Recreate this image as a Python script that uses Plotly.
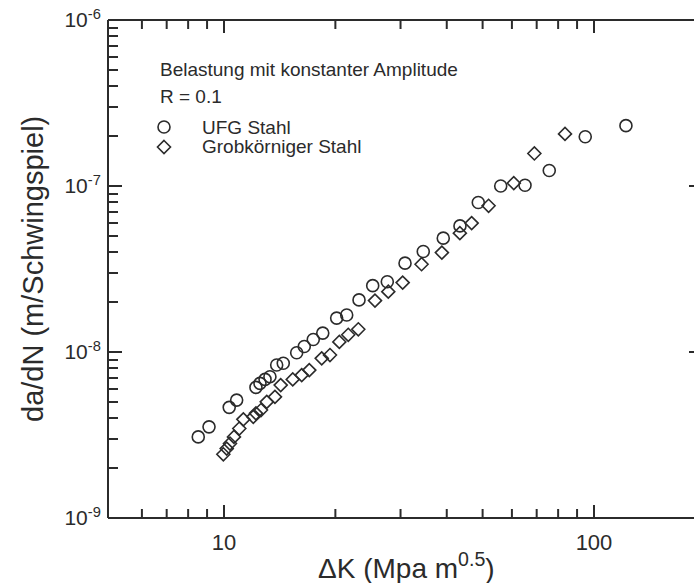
import plotly.graph_objects as go

# Crack growth rate da/dN versus stress intensity range ΔK
k_ufg = [8.52, 9.11, 10.33, 10.82, 12.2, 12.51, 12.91, 13.31, 13.88, 14.46,
         15.72, 16.48, 17.43, 18.49, 20.16, 21.46, 23.17, 25.23, 27.63, 30.85,
         34.56, 39.14, 43.43, 48.67, 55.96, 65.1, 75.7, 94.7, 122.0]
dadn_ufg = [3.08e-9, 3.54e-9, 4.64e-9, 5.13e-9, 6.12e-9, 6.47e-9, 6.84e-9, 7.10e-9,
            8.35e-9, 8.55e-9, 9.9e-9, 1.08e-8, 1.19e-8, 1.30e-8, 1.60e-8, 1.67e-8,
            2.06e-8, 2.51e-8, 2.65e-8, 3.43e-8, 4.03e-8, 4.85e-8, 5.75e-8, 7.96e-8,
            1.0e-7, 1.01e-7, 1.24e-7, 1.98e-7, 2.31e-7]

k_grob = [9.96, 10.17, 10.38, 10.64, 11.0, 11.28, 12.0, 12.2, 12.59, 13.05,
          13.73, 14.23, 15.34, 16.22, 17.0, 18.37, 19.34, 20.5, 21.67, 23.07,
          25.59, 27.8, 30.4, 34.2, 38.8, 43.4, 46.7, 51.9, 60.7, 69.0, 83.5]
dadn_grob = [2.42e-9, 2.62e-9, 2.81e-9, 3.08e-9, 3.46e-9, 3.93e-9, 4.07e-9, 4.27e-9,
             4.47e-9, 5.01e-9, 5.37e-9, 6.32e-9, 6.84e-9, 7.26e-9, 7.78e-9, 9.16e-9,
             9.59e-9, 1.15e-8, 1.27e-8, 1.37e-8, 2.04e-8, 2.31e-8, 2.62e-8, 3.38e-8,
             3.97e-8, 5.2e-8, 5.98e-8, 7.6e-8, 1.04e-7, 1.57e-7, 2.06e-7]

x_major = [10, 100]
x_major_text = ["10", "100"]
x_minor = [6, 7, 8, 9, 20, 30, 40, 50, 60, 70, 80, 90]
y_major = [1e-9, 1e-8, 1e-7, 1e-6]
y_major_text = ["10<sup>-9</sup>", "10<sup>-8</sup>", "10<sup>-7</sup>", "10<sup>-6</sup>"]
y_minor = [m * 10.0 ** e for e in (-9, -8, -7) for m in range(2, 10)]
y_right_ticks = [1e-8, 1e-7]

series_names = ["UFG Stahl", "Grobkörniger Stahl"]
legend_title = ["Belastung mit konstanter Amplitude", "R = 0.1"]
x_title = "ΔK (Mpa m<sup>0.5</sup>)"
y_title = "da/dN (m/Schwingspiel)"

INK = "#2b2b2b"
FONT = "Liberation Sans, Arial, sans-serif"

W, H = 694, 583
ML, MR, MT, MB = 109, 0, 20, 65
PW, PH = W - ML - MR, H - MT - MB

fig = go.Figure()
fig.add_trace(go.Scatter(
    x=k_ufg, y=dadn_ufg, mode="markers", name=series_names[0],
    marker=dict(symbol="circle-open", size=12, color=INK, line=dict(width=1.6, color=INK)),
    showlegend=False))
fig.add_trace(go.Scatter(
    x=k_grob, y=dadn_grob, mode="markers", name=series_names[1],
    marker=dict(symbol="diamond-open", size=10, color=INK, line=dict(width=1.6, color=INK)),
    showlegend=False))

tick_style = dict(ticks="inside", tickcolor=INK, tickwidth=2, ticklen=13)

fig.update_layout(
    width=W, height=H,
    margin=dict(l=ML, r=MR, t=MT, b=MB),
    paper_bgcolor="white", plot_bgcolor="white",
    font=dict(family=FONT, color=INK),
    xaxis=dict(
        type="log", range=[0.6892, 2.2703],
        showgrid=False, zeroline=False, showline=False,
        tickmode="array", tickvals=x_major, ticktext=x_major_text,
        mirror="ticks",
        tickfont=dict(family=FONT, size=22, color=INK),
        ticklabelstandoff=9,
        **tick_style,
    ),
    yaxis=dict(
        type="log", range=[-9, -6],
        showgrid=False, zeroline=False, showline=True, linecolor=INK, linewidth=2,
        tickmode="array", tickvals=y_major, ticktext=y_major_text,
        minor=dict(tickmode="array", tickvals=y_minor, ticks="inside", ticklen=9,
                   tickcolor=INK, tickwidth=2, showgrid=False),
        tickfont=dict(family=FONT, size=21, color=INK),
        ticklabelstandoff=2,
        **tick_style,
    ),
)

# helpers: pixel position -> paper fraction
def px(xp):
    return (xp - ML) / PW

def py(yp):
    return (H - MB - yp) / PH

# top and bottom frame lines, running to the right edge
for yfrac in (0, 1):
    fig.add_shape(type="line", xref="paper", yref="paper", x0=-1 / PW, x1=1.01,
                  y0=yfrac, y1=yfrac, line=dict(color=INK, width=2))

# minor ticks along the bottom and top edges
for xv in x_minor:
    fig.add_shape(type="line", xref="x", yref="paper", x0=xv, x1=xv,
                  y0=0, y1=9 / PH, line=dict(color=INK, width=2))
    fig.add_shape(type="line", xref="x", yref="paper", x0=xv, x1=xv,
                  y0=1 - 9 / PH, y1=1, line=dict(color=INK, width=2))

# short tick stubs on the right edge, at the decade levels
for yv in y_right_ticks:
    fig.add_shape(type="line", xref="paper", yref="y", x0=1 - 5 / PW, x1=1, y0=yv, y1=yv,
                  line=dict(color=INK, width=2))

title_font = dict(family=FONT, size=28, color=INK)
fig.add_annotation(x=px(406), y=py(566), xref="paper", yref="paper", text=x_title,
                   showarrow=False, xanchor="center", yanchor="middle", font=title_font)
fig.add_annotation(x=px(33), y=py(269), xref="paper", yref="paper", text=y_title,
                   textangle=-90, showarrow=False, xanchor="center", yanchor="middle",
                   font=dict(family=FONT, size=29, color=INK))

text_font = dict(family=FONT, size=19, color=INK)
fig.add_annotation(x=px(158), y=py(69), xref="paper", yref="paper", text=legend_title[0],
                   showarrow=False, xanchor="left", yanchor="middle", font=text_font)
fig.add_annotation(x=px(158), y=py(96), xref="paper", yref="paper", text=legend_title[1],
                   showarrow=False, xanchor="left", yanchor="middle", font=text_font)
fig.add_annotation(x=px(200), y=py(127), xref="paper", yref="paper", text=series_names[0],
                   showarrow=False, xanchor="left", yanchor="middle", font=text_font)
fig.add_annotation(x=px(200), y=py(147), xref="paper", yref="paper", text=series_names[1],
                   showarrow=False, xanchor="left", yanchor="middle", font=text_font)

fig.add_shape(type="circle", xref="paper", yref="paper", xsizemode="pixel", ysizemode="pixel",
              xanchor=px(164), yanchor=py(127), x0=-6, x1=6, y0=-6, y1=6,
              line=dict(color=INK, width=1.6))
fig.add_shape(type="path", xref="paper", yref="paper", xsizemode="pixel", ysizemode="pixel",
              xanchor=px(164), yanchor=py(147),
              path="M 0 6.5 L 6.5 0 L 0 -6.5 L -6.5 0 Z",
              line=dict(color=INK, width=1.6))

fig.write_html("out.html")
